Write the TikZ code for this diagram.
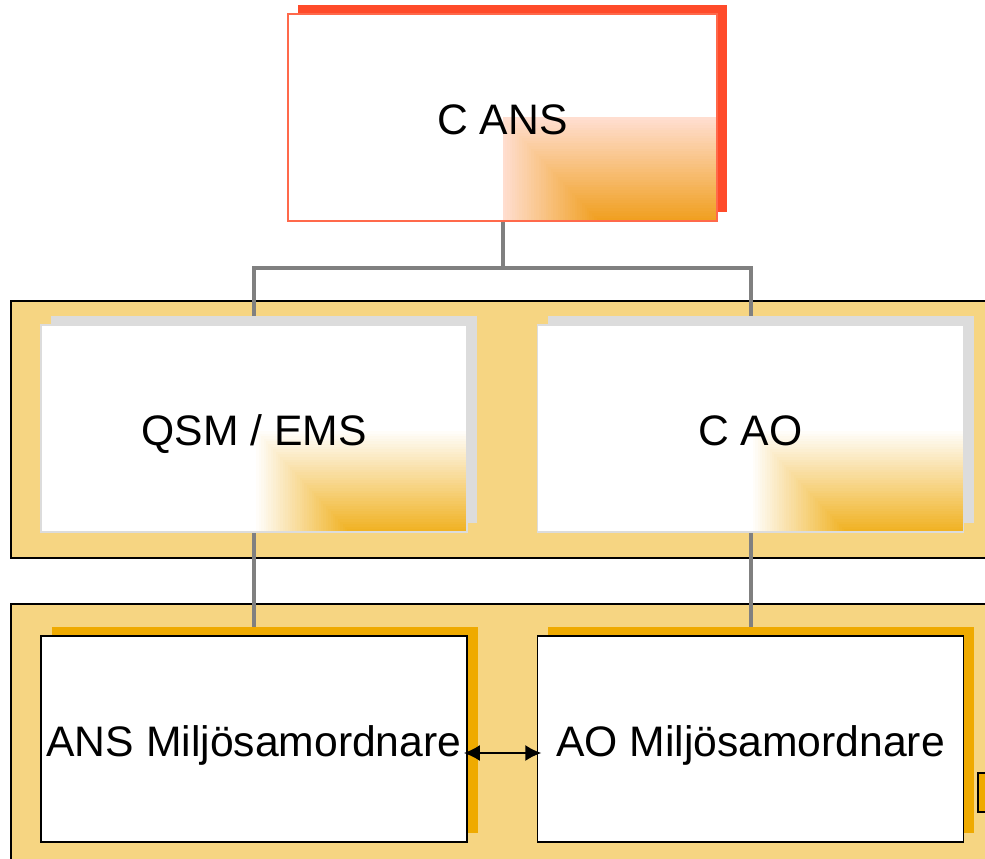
\documentclass[tikz,border=0pt]{standalone}
\usepackage{fontspec}
\setmainfont{Liberation Sans}
\usetikzlibrary{calc,shadows,arrows.meta}
\definecolor{bandfill}{RGB}{246,213,130}
\definecolor{goldsh}{RGB}{239,170,0}
\definecolor{graysh}{RGB}{220,220,220}
\definecolor{redsh}{RGB}{255,75,42}
\definecolor{redline}{RGB}{255,105,75}
\definecolor{connc}{RGB}{128,128,128}
\definecolor{gradY}{RGB}{240,176,30}
\definecolor{gradO}{RGB}{240,158,28}
\definecolor{pinkl}{RGB}{255,222,208}
\pgfdeclarelayer{back}
\pgfdeclarelayer{lines}
\pgfsetlayers{back,lines,main}
\tikzset{
  px/.style={x=0.75pt,y=-0.75pt},
  band/.style={fill=bandfill,draw=black,line width=1.1pt},
  conn/.style={draw=connc,line width=3pt},
  boxtext/.style={font=\fontsize{32}{38}\selectfont,text=black,inner sep=0pt,align=center,
    text height=25.9pt,text depth=0pt},
  gradcorner/.style n args={2}{path picture={
    \coordinate (ga) at ($(path picture bounding box.center)!0.45!(path picture bounding box.east)$);
    \coordinate (gb) at (ga |- path picture bounding box.south);
    \foreach \i in {0,...,39}{
      \pgfmathsetmacro\t{\i/40}
      \pgfmathsetmacro\p{100*\t}
      \fill[#2!\p!#1] (path picture bounding box.south east) rectangle ($(path picture bounding box.center)!\t!(gb)$);
    }}},
  topbox/.style={boxtext,rectangle,fill=white,draw=redline,line width=1.1pt,
    minimum width=429*0.75pt,minimum height=207*0.75pt,
    gradcorner={pinkl}{gradO},
    general shadow={fill=redsh,shadow xshift=7.5pt,shadow yshift=6.75pt}},
  midbox/.style={boxtext,rectangle,fill=white,draw=graysh,line width=0.8pt,
    minimum width=426*0.75pt,minimum height=207*0.75pt,
    gradcorner={white}{gradY},
    general shadow={fill=graysh,shadow xshift=7.5pt,shadow yshift=6.75pt}},
  lowbox/.style={boxtext,rectangle,fill=white,draw=black,line width=1.3pt,
    minimum width=426*0.75pt,minimum height=206*0.75pt,
    general shadow={fill=goldsh,shadow xshift=8pt,shadow yshift=6.75pt}},
  link/.style={draw=black,line width=1.2pt,shorten <=-3pt,shorten >=-3.5pt,
    {Latex[length=12pt,width=12pt]}-{Latex[length=12pt,width=12pt]}}
}
\begin{document}
\begin{tikzpicture}[px]
\useasboundingbox (0,0) rectangle (985,859);
\begin{pgfonlayer}{back}
  \path[band] (11,301) rectangle (1000,558);
  \path[band] (11,604) rectangle (1000,875);
  \path[fill=goldsh,draw=black,line width=1.3pt] (978,773) rectangle (998,812);
\end{pgfonlayer}
\node[topbox] (cans) at (502.5,117.5) {C ANS};
\node[midbox] (qsm) at (254,428.5) {QSM / EMS};
\node[midbox] (cao) at (750.5,428.5) {C AO};
\node[lowbox] (ans) at (254,739) {ANS Milj\"osamordnare};
\node[lowbox] (aoc) at (750.5,739) {AO Milj\"osamordnare};
\coordinate (split) at (502.5,268);
\begin{pgfonlayer}{lines}
  \draw[conn] (cans.south) -- (split);
  \draw[conn] (qsm.north) |- (split) -| (cao.north);
  \draw[conn] (qsm.south) -- (ans.north);
  \draw[conn] (cao.south) -- (aoc.north);
\end{pgfonlayer}
\draw[link] ($(ans.east)+(0,14)$) -- ($(aoc.west)+(0,14)$);
\end{tikzpicture}
\end{document}
